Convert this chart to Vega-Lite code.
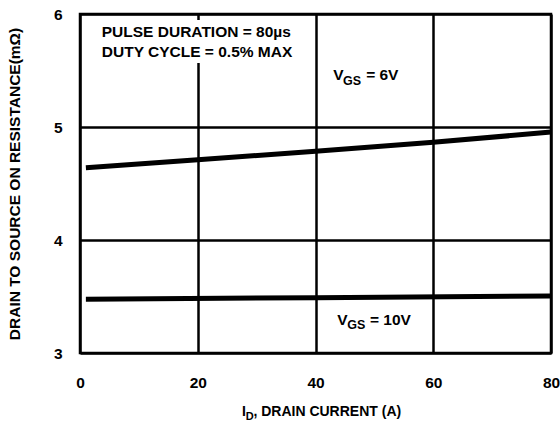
{
  "$schema": "https://vega.github.io/schema/vega-lite/v6.json",
  "width": 471,
  "height": 339,
  "autosize": {"type": "none"},
  "padding": {"left": 80, "top": 14, "right": 9, "bottom": 71},
  "background": "white",
  "config": {
    "font": "Liberation Sans",
    "view": {"stroke": "black", "strokeWidth": 2.5},
    "axis": {
      "domain": false,
      "ticks": false,
      "tickSize": 0,
      "grid": true,
      "gridColor": "black",
      "gridOpacity": 1,
      "gridWidth": 2.5,
      "labelFont": "Liberation Sans",
      "labelFontWeight": "bold",
      "labelFontSize": 15.5,
      "labelColor": "black",
      "labelFlush": false,
      "labelOverlap": false,
      "labelBound": false,
      "titleFont": "Liberation Sans",
      "titleFontWeight": "bold",
      "titleColor": "black"
    }
  },
  "datasets": {
    "curves": [
      {"series": "VGS=6V", "a": 1, "r": 4.64},
      {"series": "VGS=6V", "a": 20, "r": 4.71},
      {"series": "VGS=6V", "a": 40, "r": 4.785},
      {"series": "VGS=6V", "a": 60, "r": 4.865},
      {"series": "VGS=6V", "a": 80, "r": 4.955},
      {"series": "VGS=10V", "a": 1, "r": 3.475},
      {"series": "VGS=10V", "a": 40, "r": 3.49},
      {"series": "VGS=10V", "a": 80, "r": 3.505}
    ],
    "boxes": [
      {"x1": 2.7, "x2": 37.9, "y1": 5.947, "y2": 5.566},
      {"x1": 41.3, "x2": 57.8, "y1": 5.566, "y2": 5.31}
    ],
    "mainText": [
      {"a": 3.7, "r": 5.843, "t": "PULSE DURATION = 80\u00b5s", "s": 15.5},
      {"a": 3.7, "r": 5.662, "t": "DUTY CYCLE = 0.5% MAX", "s": 15.5},
      {"a": 43.0, "r": 5.46, "t": "V", "s": 15.5},
      {"a": 48.6, "r": 5.46, "t": "= 6V", "s": 15.5},
      {"a": 43.7, "r": 3.295, "t": "V", "s": 15.5},
      {"a": 49.25, "r": 3.295, "t": "= 10V", "s": 15.5},
      {"a": 27.5, "r": 2.478, "t": "I", "s": 14},
      {"a": 29.45, "r": 2.478, "t": ", DRAIN CURRENT (A)", "s": 14}
    ],
    "subText": [
      {"a": 44.67, "r": 5.46, "t": "GS", "s": 12.5},
      {"a": 45.4, "r": 3.295, "t": "GS", "s": 12.5},
      {"a": 28.15, "r": 2.478, "t": "D", "s": 11}
    ]
  },
  "layer": [
    {
      "data": {"name": "boxes"},
      "mark": {"type": "rect", "fill": "white", "stroke": null},
      "encoding": {
        "x": {"field": "x1", "type": "quantitative", "scale": {"domain": [0, 80], "nice": false, "zero": false},
              "axis": {"values": [0, 20, 40, 60, 80], "format": "d", "labelPadding": 22, "title": null}},
        "x2": {"field": "x2"},
        "y": {"field": "y1", "type": "quantitative", "scale": {"domain": [3, 6], "nice": false, "zero": false},
              "axis": {"values": [3, 4, 5, 6], "format": "d", "labelPadding": 18, "title": "DRAIN TO SOURCE ON RESISTANCE(m\u03a9)", "titleFontSize": 15.5, "titlePadding": 31}},
        "y2": {"field": "y2"}
      }
    },
    {
      "data": {"name": "curves"},
      "mark": {"type": "line", "color": "black", "strokeWidth": 5, "strokeCap": "butt"},
      "encoding": {
        "x": {"field": "a", "type": "quantitative"},
        "y": {"field": "r", "type": "quantitative"},
        "detail": {"field": "series"},
        "order": {"field": "a"}
      }
    },
    {
      "data": {"name": "mainText"},
      "mark": {"type": "text", "align": "left", "baseline": "middle", "fontWeight": "bold", "font": "Liberation Sans", "color": "black"},
      "encoding": {
        "x": {"field": "a", "type": "quantitative"},
        "y": {"field": "r", "type": "quantitative"},
        "text": {"field": "t"},
        "size": {"field": "s", "type": "quantitative", "scale": null}
      }
    },
    {
      "data": {"name": "subText"},
      "mark": {"type": "text", "align": "left", "baseline": "middle", "dy": 5.5, "fontWeight": "bold", "font": "Liberation Sans", "color": "black"},
      "encoding": {
        "x": {"field": "a", "type": "quantitative"},
        "y": {"field": "r", "type": "quantitative"},
        "text": {"field": "t"},
        "size": {"field": "s", "type": "quantitative", "scale": null}
      }
    }
  ]
}
